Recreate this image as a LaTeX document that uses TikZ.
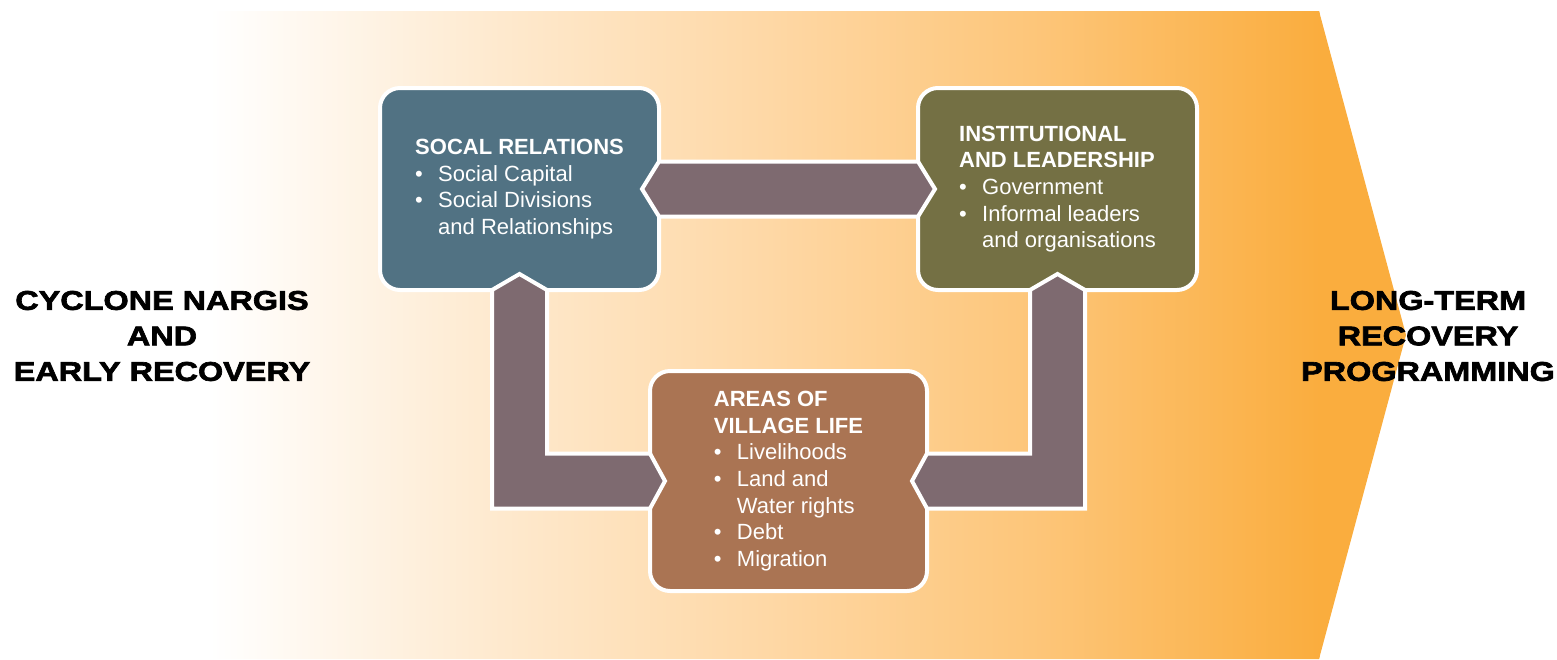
\documentclass[tikz,border=0pt]{standalone}
\usepackage{fontspec}
\setmainfont{Liberation Sans}
\newfontfamily\heavyfont[FakeStretch=1.2,BoldFeatures={FakeBold=2.5}]{Liberation Sans}
\usetikzlibrary{calc,positioning}

\definecolor{socialblue}{RGB}{81,114,131}
\definecolor{instolive}{RGB}{116,112,68}
\definecolor{villagebrown}{RGB}{170,116,83}
\definecolor{linkmauve}{RGB}{126,106,112}
\definecolor{arroworange}{RGB}{250,173,62}
\pgfdeclarehorizontalshading{bgfade}{100bp}{rgb(0bp)=(1,1,1); rgb(25bp)=(1,1,1); rgb(37.5bp)=(0.996,0.918,0.816); rgb(50bp)=(0.996,0.847,0.651); rgb(62.5bp)=(0.992,0.773,0.471); rgb(75bp)=(0.980,0.678,0.243); rgb(100bp)=(0.980,0.678,0.243)}

\newcommand{\bul}[1]{\makebox[11.5pt][l]{\textbullet}#1}
\newcommand{\cont}{\hspace*{11.5pt}}

\begin{document}
\begin{tikzpicture}[x=0.5pt,y=-0.5pt,
  box/.style={draw=white,line width=2pt,rounded corners=10pt,outer sep=0pt,text=white,align=left,inner sep=0pt,font=\fontsize{11}{13.3}\selectfont},
  link/.style={draw=white,line width=2pt,fill=linkmauve,line join=miter},
  side/.style={font=\heavyfont\bfseries\fontsize{13.5}{17.75}\selectfont,align=center}]
  \useasboundingbox (0,0) rectangle (1557,659);
  \begin{scope}
    \clip (210,11) -- (1319,11) -- (1406,335) -- (1319,659) -- (210,659) -- cycle;
    \shade[shading=bgfade] (210,11) rectangle (1320,659);
    \fill[arroworange] (1319,11) rectangle (1410,659);
  \end{scope}

  \node[box,fill=socialblue,minimum width=139.5pt,minimum height=101pt] (social) at (519.5,189)
    {\textbf{SOCAL RELATIONS}\\\bul{Social Capital}\\\bul{Social Divisions}\\\cont and Relationships};
  \node[box,fill=instolive,minimum width=139.5pt,minimum height=101pt] (inst) at (1057.5,189)
    {\textbf{INSTITUTIONAL}\\\textbf{AND LEADERSHIP}\\\bul{Government}\\\bul{Informal leaders}\\\cont and organisations};
  \node[box,fill=villagebrown,minimum width=138.5pt,minimum height=110pt] (village) at (788.5,481)
    {\textbf{AREAS OF}\\\textbf{VILLAGE LIFE}\\\bul{Livelihoods}\\\bul{Land and}\\\cont Water rights\\\bul{Debt}\\\bul{Migration}};

  \draw[link] ($(social.east)+(-17,0)$) -- ($(social.east)+(0,-27.5)$) -- ($(inst.west)+(0,-27.5)$)
    -- ($(inst.west)+(17,0)$) -- ($(inst.west)+(0,27.5)$) -- ($(social.east)+(0,27.5)$) -- cycle;
  \draw[link] ($(social.south)+(0,-16)$) -- ($(social.south)+(27.5,0)$) -- ($(social.south |- village.west)+(27.5,-27.5)$)
    -- ($(village.west)+(0,-27.5)$) -- ($(village.west)+(15,0)$) -- ($(village.west)+(0,27.5)$)
    -- ($(social.south |- village.west)+(-27.5,27.5)$) -- ($(social.south)+(-27.5,0)$) -- cycle;
  \draw[link] ($(inst.south)+(0,-16)$) -- ($(inst.south)+(-27.5,0)$) -- ($(inst.south |- village.east)+(-27.5,-27.5)$)
    -- ($(village.east)+(0,-27.5)$) -- ($(village.east)+(-15,0)$) -- ($(village.east)+(0,27.5)$)
    -- ($(inst.south |- village.east)+(27.5,27.5)$) -- ($(inst.south)+(27.5,0)$) -- cycle;

  \node[side] (cyclone) at (162,336) {CYCLONE NARGIS\\AND\\EARLY RECOVERY};
  \node[side] (longterm) at (1428,336) {LONG-TERM\\RECOVERY\\PROGRAMMING};
\end{tikzpicture}
\end{document}
